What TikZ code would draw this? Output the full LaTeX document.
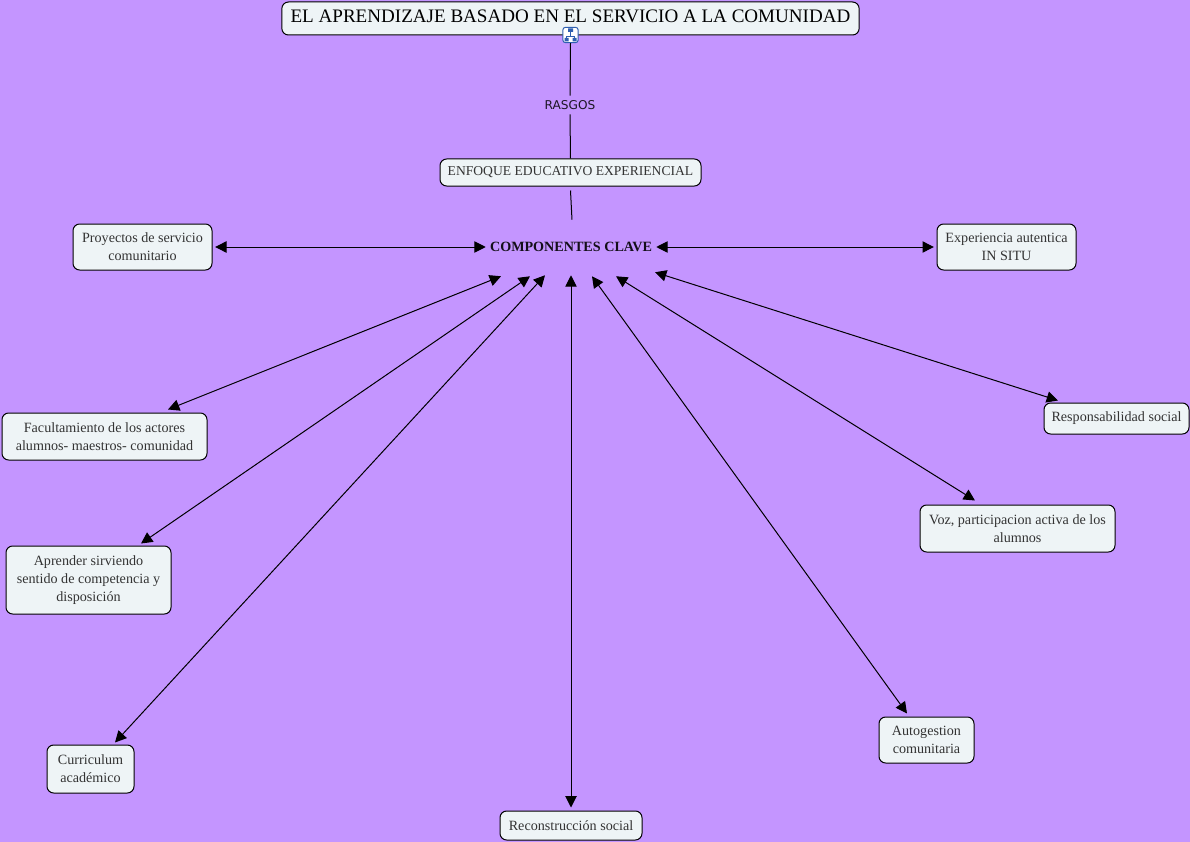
\documentclass[tikz,border=0pt]{standalone}
\usepackage{xcolor}
\usepackage{fontspec}
\setmainfont{Liberation Serif}
\newfontfamily\rasgosfont{DejaVu Sans}
\usetikzlibrary{positioning,calc,arrows.meta}
\definecolor{fondo}{HTML}{C495FF}
\definecolor{caja}{HTML}{EEF4F6}
\definecolor{letra}{HTML}{333333}
\definecolor{azulico}{HTML}{2F5FB0}
\tikzset{
	concepto/.style={draw=black, fill=caja, rounded corners=5pt, line width=0.75pt, align=center, text=letra, inner sep=0pt, font=\fontsize{10.6pt}{13.6pt}\selectfont},
	enlace/.style={line width=0.75pt, black},
	doble/.style={enlace, {Triangle[length=8.5pt,width=8.5pt]}-{Triangle[length=8.5pt,width=8.5pt]}}
}
\begin{document}
\begin{tikzpicture}[x=0.75pt, y=-0.75pt]
		\useasboundingbox (0,0) rectangle (1190,842);
		\fill[fondo] (0,0) rectangle (1190,842);

		\node[concepto, minimum width=433pt, minimum height=24.75pt, text=black, text depth=3pt, font=\fontsize{14.3pt}{16pt}\selectfont] (titulo) at (570.5,18.5) {EL APRENDIZAJE BASADO EN EL SERVICIO A LA COMUNIDAD};
		\node[draw=azulico, fill=white, rounded corners=2pt, line width=0.75pt, minimum size=11.5pt, inner sep=0pt] (icono) at (570.5,35) {};
		\draw[azulico, line width=0.5pt] ([shift={(0,-4)}]icono.center) -- ([shift={(0,1)}]icono.center) ([shift={(-4,4)}]icono.center) -- ([shift={(-4,1)}]icono.center) -- ([shift={(4,1)}]icono.center) -- ([shift={(4,4)}]icono.center);
		\fill[azulico] ([shift={(-2.5,-6.5)}]icono.center) rectangle ([shift={(2.5,-3)}]icono.center) ([shift={(-6,3)}]icono.center) rectangle ([shift={(-2,6.5)}]icono.center) ([shift={(2,3)}]icono.center) rectangle ([shift={(6,6.5)}]icono.center);

		\node[font=\rasgosfont\fontsize{9.1pt}{10pt}\selectfont, text=black!85!fondo, minimum height=13.5pt, inner sep=0pt] (rasgos) at (570,105) {RASGOS};
		\node[concepto, minimum width=195.75pt, minimum height=20.25pt, font=\fontsize{10.2pt}{13pt}\selectfont] (enfoque) at (570.5,172.5) {ENFOQUE EDUCATIVO EXPERIENCIAL};
		\node[minimum width=127.5pt, minimum height=40.5pt, inner sep=0pt, text=black!90!fondo, font=\bfseries\fontsize{10.6pt}{13pt}\selectfont] (comp) at (571,247) {COMPONENTES CLAVE};

		\node[concepto, minimum width=104.25pt, minimum height=34.5pt] (proyectos) at (142.5,247) {Proyectos de servicio\\comunitario};
		\node[concepto, minimum width=104.25pt, minimum height=34.5pt] (experiencia) at (1006.5,247) {Experiencia autentica\\IN SITU};
		\node[concepto, minimum width=153.75pt, minimum height=35.25pt] (facultamiento) at (104.5,436.5) {Facultamiento de los actores\\alumnos- maestros- comunidad};
		\node[concepto, minimum width=123.75pt, minimum height=51pt] (aprender) at (88.5,580) {Aprender sirviendo\\sentido de competencia y\\disposición};
		\node[concepto, minimum width=65.25pt, minimum height=36pt] (curriculum) at (90.5,769) {Curriculum\\académico};
		\node[concepto, minimum width=106.5pt, minimum height=21.75pt] (reconstruccion) at (571,825.5) {Reconstrucción social};
		\node[concepto, minimum width=71.25pt, minimum height=34.5pt] (autogestion) at (926.5,740) {Autogestion\\comunitaria};
		\node[concepto, minimum width=146.25pt, minimum height=35.25pt] (voz) at (1017.5,528.5) {Voz, participacion activa de los\\alumnos};
		\node[concepto, minimum width=108.75pt, minimum height=23.25pt] (responsabilidad) at (1116.5,418.5) {Responsabilidad social};

		\draw[enlace] (icono.south) -- (rasgos.north);
		\draw[enlace] (rasgos.south) -- (enfoque.north);
		\draw[enlace] ([yshift=-3pt]enfoque.south) -- ([xshift=0.75pt]comp.north);

		\draw[doble] ([xshift=2pt]proyectos.east) -- (comp.west);
		\draw[doble] (comp.east) -- ([xshift=-2pt]experiencia.west);
		\draw[doble] ([shift={(63.5,-3)}]facultamiento.north) -- ([shift={(-70,2)}]comp.south);
		\draw[doble] ([shift={(52.5,-2)}]aprender.north) -- ([shift={(-41,2)}]comp.south);
		\draw[doble] ([shift={(24.5,-2)}]curriculum.north) -- ([shift={(-26,1)}]comp.south);
		\draw[doble] ([shift={(0,-3)}]reconstruccion.north) -- ([shift={(0,1)}]comp.south);
		\draw[doble] ([shift={(-19.5,-3)}]autogestion.north) -- ([shift={(21,2)}]comp.south);
		\draw[doble] ([shift={(-42.5,-4)}]voz.north) -- ([shift={(45,2)}]comp.south);
		\draw[doble] ([shift={(-58.5,-2)}]responsabilidad.north) -- ([shift={(84,-2)}]comp.south);
	\end{tikzpicture}
\end{document}
